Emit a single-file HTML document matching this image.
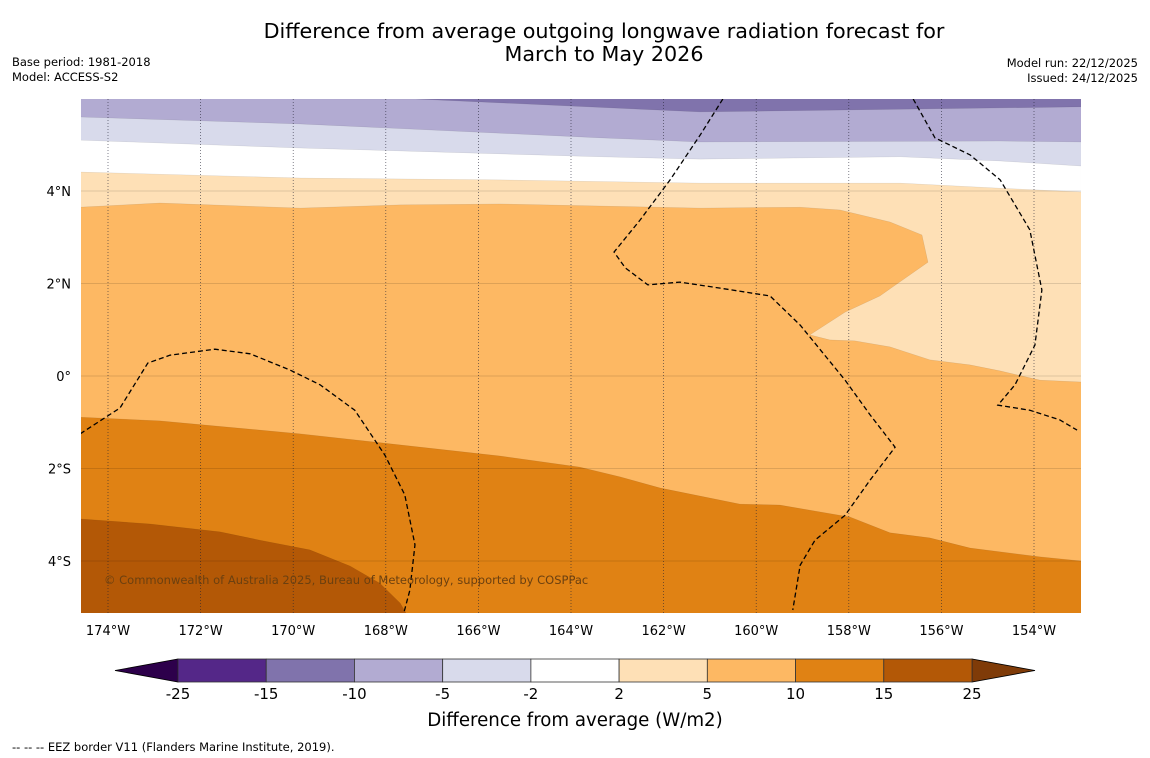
<!DOCTYPE html>
<html><head><meta charset="utf-8"><style>
body{margin:0;background:#fff;width:1150px;height:758px;overflow:hidden;font-family:"DejaVu Sans","Liberation Sans",sans-serif}
svg{display:block}
</style></head><body>
<svg id="c" width="1150" height="758" xmlns="http://www.w3.org/2000/svg">
<text x="604" y="38" text-anchor="middle" font-size="20.7">Difference from average outgoing longwave radiation forecast for</text>
<text x="604" y="61" text-anchor="middle" font-size="20.7">March to May 2026</text>
<text x="12" y="66" font-size="11.5">Base period: 1981-2018</text>
<text x="12" y="81" font-size="11.5">Model: ACCESS-S2</text>
<text x="1138" y="67" font-size="11.5" text-anchor="end">Model run: 22/12/2025</text>
<text x="1138" y="82" font-size="11.5" text-anchor="end">Issued: 24/12/2025</text>
<text x="12" y="751" font-size="11.5">--  --  -- EEZ border V11 (Flanders Marine Institute, 2019).</text>
<defs><clipPath id="mc"><rect x="81" y="99" width="1000" height="514"/></clipPath></defs>
<g id="map" clip-path="url(#mc)"></g>
<g id="axes"></g>
<g id="cbar"></g>
<text x="575" y="726" text-anchor="middle" font-size="18.2">Difference from average (W/m2)</text>
</svg>
<script>
const levels=[-25,-15,-10,-5,-2,2,5,10,15,25];
const levelColors=["#542788","#8073ac","#b2abd2","#d8daeb","#ffffff","#fee0b6","#fdb863","#e08214","#b35806"];
const lonTicks=[-174,-172,-170,-168,-166,-164,-162,-160,-158,-156,-154];
const latTicks=[4,2,0,-2,-4];
// contour boundaries [lon,lat]; area below each gets the colour listed
const bndTopPurple=[[-174.6,6.0],[-167.37,5.99],[-161.21,5.71],[-152.98,5.82]];
const bndM10=[[-174.6,5.6],[-169.85,5.45],[-163.37,5.15],[-161.21,5.06],[-154.73,5.08],[-152.98,5.06]];
const bndM5=[[-174.6,5.10],[-169.85,4.93],[-163.37,4.74],[-161.21,4.69],[-156.89,4.74],[-154.73,4.65],[-152.98,4.54]];
const bndM2=[[-174.6,4.41],[-169.85,4.28],[-165.53,4.24],[-161.21,4.17],[-156.89,4.17],[-154.73,4.06],[-152.98,3.98]];
const bndP5=[[-174.6,3.65],[-172.88,3.74],[-169.85,3.63],[-167.69,3.70],[-165.53,3.72],[-161.21,3.63],[-159.05,3.65],[-158.19,3.59],[-157.11,3.33],[-156.42,3.05],[-156.29,2.46],[-157.33,1.73],[-158.08,1.38],[-158.84,0.89],[-158.41,0.78],[-157.87,0.76],[-157.11,0.63],[-156.25,0.35],[-155.38,0.24],[-154.73,0.11],[-153.87,-0.09],[-152.98,-0.13]];
const bndP10=[[-174.6,-0.89],[-172.88,-0.97],[-169.85,-1.25],[-167.69,-1.49],[-165.53,-1.73],[-163.81,-1.97],[-162.94,-2.18],[-162.08,-2.42],[-160.35,-2.77],[-159.49,-2.79],[-157.97,-3.05],[-157.11,-3.39],[-156.25,-3.50],[-155.38,-3.72],[-153.87,-3.91],[-152.98,-4.0]];
const bndP15=[[-174.6,-3.09],[-173.09,-3.2],[-171.58,-3.37],[-170.72,-3.55],[-169.64,-3.76],[-168.77,-4.11],[-168.13,-4.48],[-167.69,-4.91],[-167.52,-5.2]];
const eez1=[[-174.6,-1.25],[-173.74,-0.69],[-173.14,0.28],[-172.66,0.45],[-171.69,0.58],[-170.93,0.48],[-170.07,0.13],[-169.42,-0.19],[-168.67,-0.74],[-168.02,-1.71],[-167.59,-2.57],[-167.37,-3.65],[-167.48,-4.63],[-167.61,-5.12]];
const eez2=[[-160.72,5.99],[-161.21,5.21],[-161.86,4.24],[-162.51,3.37],[-163.07,2.68],[-162.83,2.34],[-162.34,1.97],[-161.65,2.03],[-160.78,1.90],[-159.70,1.73],[-159.05,1.10],[-158.08,-0.09],[-157.54,-0.84],[-157.0,-1.54],[-157.54,-2.25],[-158.08,-3.01],[-158.73,-3.55],[-159.05,-4.09],[-159.21,-5.06]];
const eez3=[[-156.61,5.99],[-156.14,5.15],[-155.38,4.78],[-154.73,4.24],[-154.09,3.16],[-153.83,1.86],[-153.98,0.67],[-154.41,-0.19],[-154.78,-0.63],[-154.09,-0.74],[-153.44,-0.95],[-153.07,-1.17]];
const NS="http://www.w3.org/2000/svg";
const xS=lon=>108+(lon+174)*46.3, yS=lat=>376-lat*46.25;
function mk(t,a,p){const e=document.createElementNS(NS,t);for(const k in a)e.setAttribute(k,a[k]);p.appendChild(e);return e;}
const map=document.getElementById('map');
let bg=mk('rect',{x:81,y:99,width:1000,height:514,fill:levelColors[1]},map);


const layers=[[bndTopPurple,2],[bndM10,3],[bndM5,4],[bndM2,5],[bndP5,6],[bndP10,7],[bndP15,8]];
layers.forEach(([b,ci])=>{
  const pts=b.map(p=>xS(p[0])+','+yS(p[1]));
  pts.push(xS(b[b.length-1][0])+','+yS(-5.3));pts.push(xS(b[0][0])+','+yS(-5.3));
  const e=mk('polygon',{points:pts.join(' '),fill:levelColors[ci],stroke:'rgba(0,0,0,0.12)','stroke-width':0.5},map);
  
  
});
lonTicks.forEach(l=>{const e=mk('line',{x1:xS(l),x2:xS(l),y1:99,y2:613,stroke:'#223','stroke-width':0.7,'stroke-dasharray':'1,2',opacity:0.8},map);
  
  });
latTicks.forEach(l=>{const e=mk('line',{x1:81,x2:1081,y1:yS(l),y2:yS(l),stroke:'#000','stroke-width':0.6,opacity:0.25},map);
  
  });
[eez1,eez2,eez3].forEach(b=>{const e=mk('polyline',{points:b.map(p=>xS(p[0])+','+yS(p[1])).join(' '),fill:'none',stroke:'#000','stroke-width':1.3,'stroke-dasharray':'5,3'},map);
  
  });
const cr=mk('text',{x:104,y:584,'font-size':11.5,fill:'#6b4010'},map);cr.textContent='© Commonwealth of Australia 2025, Bureau of Meteorology, supported by COSPPac';


const ax=document.getElementById('axes');
lonTicks.forEach(l=>{const t=mk('text',{x:xS(l),y:635,'text-anchor':'middle','font-size':13},ax);t.textContent=Math.abs(l)+'°W';
  
  });
latTicks.forEach(l=>{const t=mk('text',{x:71,y:yS(l)+5,'text-anchor':'end','font-size':13},ax);t.textContent=l===0?'0°':Math.abs(l)+'°'+(l>0?'N':'S');
  
  });
const cb=document.getElementById('cbar');
const bx0=178,bw=(972-178)/9,by=659,bh=23;
let ta=mk('polygon',{points:`115,670.5 ${bx0},${by} ${bx0},${by+bh}`,fill:'#2d004b',stroke:'#000','stroke-width':0.8},cb);

let tb=mk('polygon',{points:`1035,670.5 972,${by} 972,${by+bh}`,fill:'#7f3b08',stroke:'#000','stroke-width':0.8},cb);

levelColors.forEach((c,i)=>{const r=mk('rect',{x:bx0+i*bw,y:by,width:bw,height:bh,fill:c,stroke:'#333','stroke-width':0.8},cb);
  
  });
levels.forEach((v,i)=>{const t=mk('text',{x:bx0+i*bw,y:699,'text-anchor':'middle','font-size':15},cb);t.textContent=v;
  
  });
</script>
</body></html>
